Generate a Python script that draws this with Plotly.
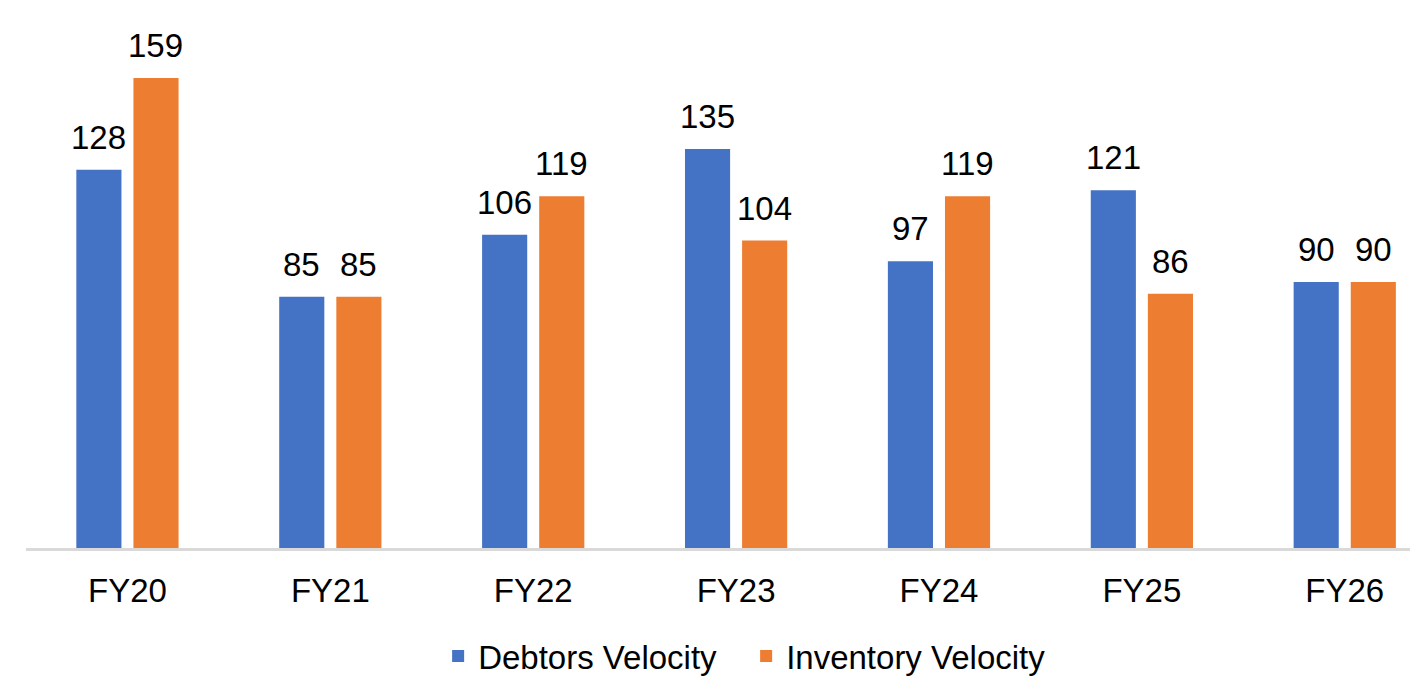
import plotly.graph_objects as go

categories = ["FY20", "FY21", "FY22", "FY23", "FY24", "FY25", "FY26"]
debtors_velocity = [128, 85, 106, 135, 97, 121, 90]
inventory_velocity = [159, 85, 119, 104, 119, 86, 90]

FONT = "Liberation Sans, Arial, sans-serif"
FS = 33

W, H = 1410, 668
ML, MR, MT, MB = 18, 0, 2, 128
X_RANGE = [-0.5, 6.361]
BARGAP = 0.437
BARGROUPGAP = 0.21

fig = go.Figure()
fig.add_trace(go.Bar(
    x=categories, y=debtors_velocity, name="Debtors Velocity",
    marker=dict(color="#4472C4", line=dict(width=0)),
))
fig.add_trace(go.Bar(
    x=categories, y=inventory_velocity, name="Inventory Velocity",
    marker=dict(color="#ED7D31", line=dict(width=0)),
))

# data labels above each bar, offset to each bar's slot in the group
cat_px = (W - ML - MR) / (X_RANGE[1] - X_RANGE[0])
slot_px = cat_px * (1 - BARGAP) / 2
for series, sign in ((debtors_velocity, -1), (inventory_velocity, 1)):
    for cat, val in zip(categories, series):
        fig.add_annotation(
            x=cat, y=val, text=str(val), showarrow=False,
            xanchor="center", yanchor="bottom",
            xshift=sign * slot_px / 2, yshift=12,
            font=dict(family=FONT, size=FS, color="#000000"),
        )

fig.update_layout(
    width=W, height=H,
    margin=dict(l=ML, r=MR, t=MT, b=MB),
    paper_bgcolor="white", plot_bgcolor="white",
    barmode="group", bargap=BARGAP, bargroupgap=BARGROUPGAP,
    font=dict(family=FONT, size=FS, color="#000000"),
    showlegend=True,
    legend=dict(
        orientation="h", xref="container", yref="container",
        x=0.5235, xanchor="center", y=0.03, yanchor="middle",
        font=dict(family=FONT, size=FS, color="#000000"),
        itemwidth=30, tracegroupgap=0,
        entrywidth=263, entrywidthmode="pixels",
    ),
)
fig.update_xaxes(
    range=X_RANGE, showline=True, linecolor="#d9d9d9", linewidth=2.5,
    showgrid=False, zeroline=False, ticks="outside", ticklen=12,
    tickcolor="rgba(0,0,0,0)",
    tickfont=dict(family=FONT, size=FS, color="#000000"),
)
fig.update_yaxes(
    range=[0, 182], visible=False, showgrid=False, zeroline=False,
)

fig.write_html("out.html")
